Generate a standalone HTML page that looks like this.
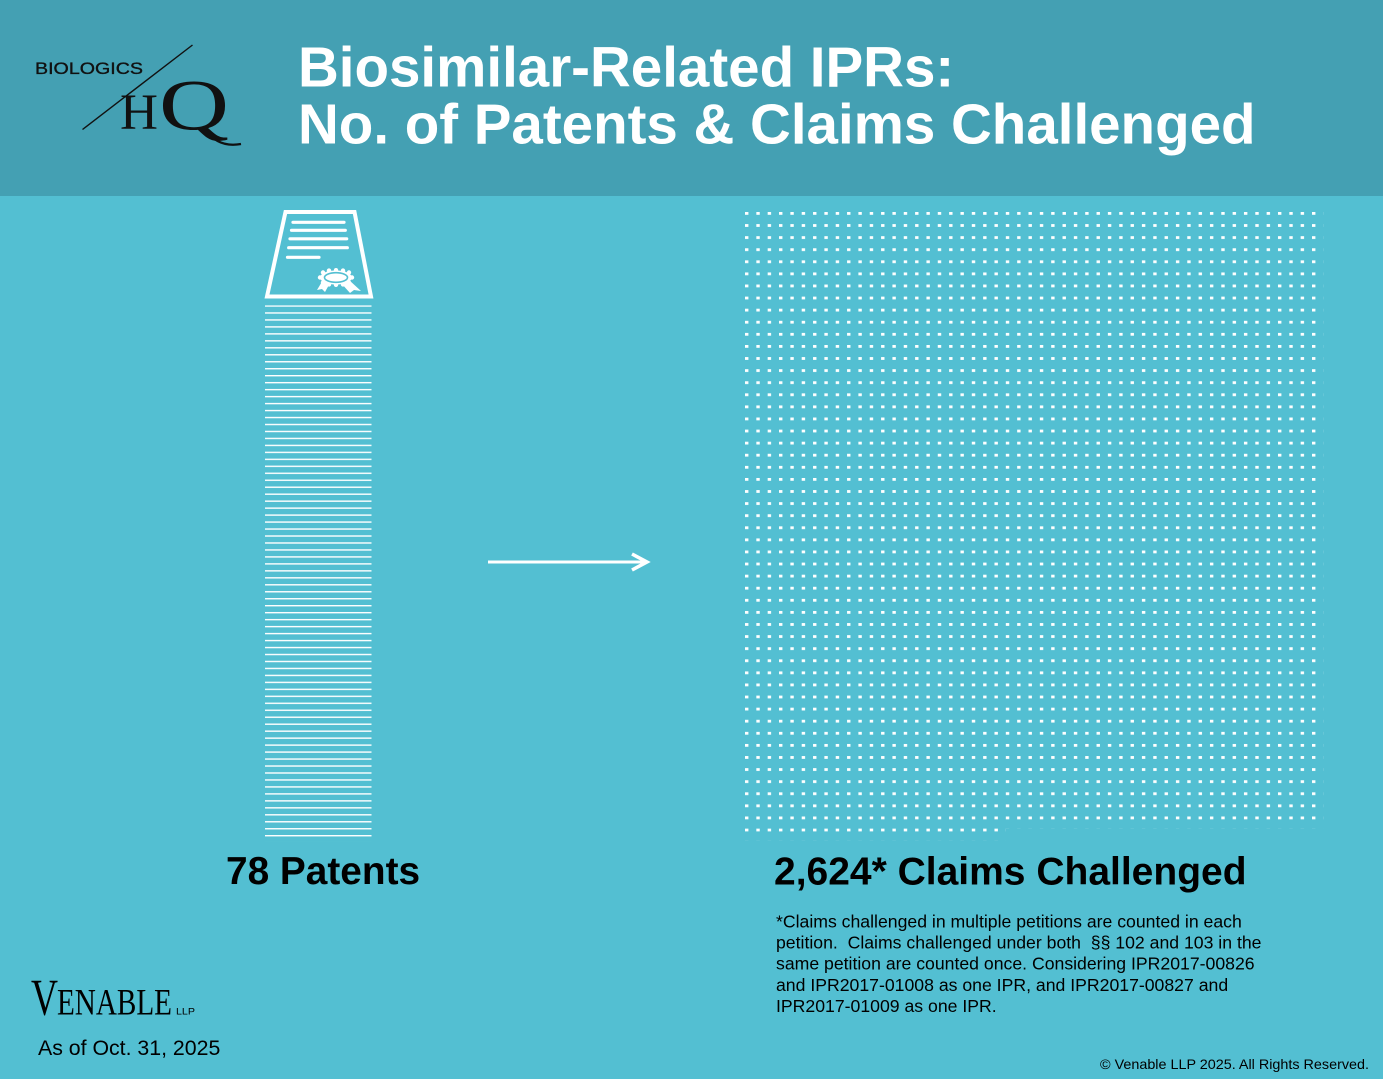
<!DOCTYPE html>
<html>
<head>
<meta charset="utf-8">
<style>
html,body{margin:0;padding:0;}
body{width:1383px;height:1079px;overflow:hidden;background:#53bfd2;}
svg{display:block;}
text{white-space:pre;}
</style>
</head>
<body>
<svg width="1383" height="1079" viewBox="0 0 1383 1079" xmlns="http://www.w3.org/2000/svg">
  <defs>
    <pattern id="dots" x="745" y="212" width="11.34" height="12.09" patternUnits="userSpaceOnUse">
      <rect x="0" y="0" width="3.4" height="2.8" fill="#ffffff"/>
    </pattern>
    <pattern id="lines" x="265" y="305.3" width="120" height="6.97" patternUnits="userSpaceOnUse">
      <rect x="0" y="0" width="120" height="1.4" fill="#ffffff"/>
    </pattern>
  </defs>

  <!-- backgrounds -->
  <rect x="0" y="0" width="1383" height="1079" fill="#53bfd2"/>
  <rect x="0" y="0" width="1383" height="196" fill="#44a0b3"/>

  <!-- Biologics HQ logo -->
  <text x="35" y="74" font-family="Liberation Sans, sans-serif" font-size="16.5" fill="#111" stroke="#111" stroke-width="0.35" textLength="108" lengthAdjust="spacingAndGlyphs">BIOLOGICS</text>
  <line x1="82.5" y1="129.5" x2="192.5" y2="45" stroke="#111" stroke-width="1.4"/>
  <text x="120" y="129" font-family="Liberation Serif, serif" font-size="51" fill="#111" textLength="38" lengthAdjust="spacingAndGlyphs">H</text>
  <text x="159" y="129.5" font-family="Liberation Serif, serif" font-size="72" fill="#111" textLength="70" lengthAdjust="spacingAndGlyphs">Q</text>
  <path d="M206 130 Q218 148 241 144" stroke="#111" stroke-width="2.2" fill="none"/>

  <!-- Title -->
  <text x="298" y="86.7" font-family="Liberation Sans, Arial, sans-serif" font-weight="bold" font-size="56.5" fill="#ffffff">Biosimilar-Related IPRs:</text>
  <text x="298" y="143.3" font-family="Liberation Sans, Arial, sans-serif" font-weight="bold" font-size="56.5" fill="#ffffff">No. of Patents &amp; Claims Challenged</text>

  <!-- Patent icon -->
  <path d="M285.5 212 L354.5 212 L371 296.5 L267 296.5 Z" fill="none" stroke="#ffffff" stroke-width="4" stroke-linejoin="miter"/>
  <g stroke="#ffffff" stroke-width="3.2" stroke-linecap="round">
    <line x1="293" y1="222.3" x2="344" y2="222.3"/>
    <line x1="291.5" y1="230.3" x2="345.3" y2="230.3"/>
    <line x1="290" y1="238.8" x2="346.7" y2="238.8"/>
    <line x1="288.7" y1="247.7" x2="347.3" y2="247.7"/>
    <line x1="287.5" y1="257.3" x2="319" y2="257.3"/>
  </g>
  <!-- seal -->
  <polygon points="317,290 323,280 330,283 325,292 322,289" fill="#ffffff"/>
  <polygon points="341,283 349,280 361,291 354,290 350,293" fill="#ffffff"/>
  <g fill="#ffffff">
    <ellipse cx="336" cy="277.5" rx="16" ry="7"/>
    <circle cx="320" cy="277.5" r="2.2"/>
    <circle cx="352" cy="277.5" r="2.2"/>
    <circle cx="323" cy="272.5" r="2.2"/>
    <circle cx="349" cy="272.5" r="2.2"/>
    <circle cx="329" cy="270.6" r="2.2"/>
    <circle cx="343" cy="270.6" r="2.2"/>
    <circle cx="336" cy="270.2" r="2.2"/>
    <circle cx="323" cy="282.5" r="2.2"/>
    <circle cx="349" cy="282.5" r="2.2"/>
    <circle cx="329" cy="284.4" r="2.2"/>
    <circle cx="343" cy="284.4" r="2.2"/>
    <circle cx="336" cy="284.8" r="2.2"/>
  </g>
  <ellipse cx="336" cy="277.5" rx="11.5" ry="4.8" fill="none" stroke="#53bfd2" stroke-width="1.6"/>

  <!-- stack of patents -->
  <rect x="265" y="305.3" width="106.5" height="536.7" fill="url(#lines)"/>

  <!-- arrow -->
  <line x1="488" y1="562" x2="645" y2="562" stroke="#ffffff" stroke-width="3"/>
  <polyline points="632,554 647,562 632,570" fill="none" stroke="#ffffff" stroke-width="3.5" stroke-linejoin="miter"/>

  <!-- dots -->
  <rect x="745" y="212" width="578.34" height="616.59" fill="url(#dots)"/>
  <rect x="745" y="828.59" width="260.82" height="12" fill="url(#dots)"/>

  <!-- labels -->
  <text x="226" y="884" font-family="Liberation Sans, Arial, sans-serif" font-weight="bold" font-size="38.8" fill="#000">78 Patents</text>
  <text x="774" y="884.5" font-family="Liberation Sans, Arial, sans-serif" font-weight="bold" font-size="39" fill="#000">2,624* Claims Challenged</text>

  <g font-family="Liberation Sans, Arial, sans-serif" font-size="17.65" fill="#000">
    <text x="776" y="927.5">*Claims challenged in multiple petitions are counted in each</text>
    <text x="776" y="948.6">petition.  Claims challenged under both  §§ 102 and 103 in the</text>
    <text x="776" y="969.7">same petition are counted once. Considering IPR2017-00826</text>
    <text x="776" y="990.8">and IPR2017-01008 as one IPR, and IPR2017-00827 and</text>
    <text x="776" y="1011.9">IPR2017-01009 as one IPR.</text>
  </g>

  <!-- Venable logo -->
  <text x="31" y="1014.3" font-family="Liberation Serif, serif" font-size="51.5" fill="#000" textLength="27" lengthAdjust="spacingAndGlyphs">V</text>
  <text x="57" y="1014.3" font-family="Liberation Serif, serif" font-size="36.7" fill="#000" textLength="115" lengthAdjust="spacingAndGlyphs">ENABLE</text>
  <text x="176" y="1014.3" font-family="Liberation Sans, sans-serif" font-size="8.8" fill="#000" textLength="19" lengthAdjust="spacingAndGlyphs">LLP</text>

  <text x="38" y="1055" font-family="Liberation Sans, Arial, sans-serif" font-size="21.3" fill="#000">As of Oct. 31, 2025</text>

  <text x="1100" y="1069" font-family="Liberation Sans, Arial, sans-serif" font-size="14" fill="#000" textLength="269" lengthAdjust="spacingAndGlyphs">© Venable LLP 2025. All Rights Reserved.</text>
</svg>
</body>
</html>
